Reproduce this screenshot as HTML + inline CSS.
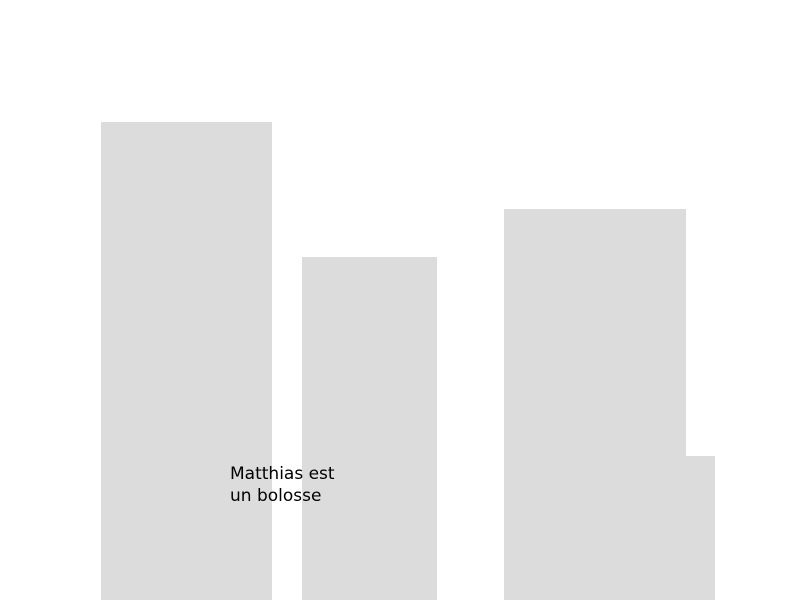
<!DOCTYPE html>
<html>
<head>
<meta charset="utf-8">
<style>
  html,body{margin:0;padding:0;background:#fff;}
  svg{display:block;}
</style>
</head>
<body>
<svg id="chart" width="800" height="600" viewBox="0 0 800 600">
  <g id="bars"></g>
  <text x="230" y="479" font-family="'DejaVu Sans','Liberation Sans',sans-serif" font-size="17" fill="#000">Matthias est</text>
  <text x="230" y="501" font-family="'DejaVu Sans','Liberation Sans',sans-serif" font-size="17" fill="#000">un bolosse</text>
</svg>
<script>
const categories = ["a", "b", "c", "d"];
const values = [478, 343, 391, 144];
// layout (not data)
const barLeft = [101, 302, 504, 686];
const barWidth = [171, 135, 182, 29];

const baseY = 600;
const yMaxPx = 600;
const yMax = 600;
function yScale(v){ return baseY - v * (yMaxPx / yMax); }

const g = document.getElementById('bars');
categories.forEach((c, i) => {
  const r = document.createElementNS('http://www.w3.org/2000/svg', 'rect');
  r.setAttribute('x', barLeft[i]);
  r.setAttribute('y', yScale(values[i]));
  r.setAttribute('width', barWidth[i]);
  r.setAttribute('height', baseY - yScale(values[i]));
  r.setAttribute('fill', '#dcdcdc');
  
  
  g.appendChild(r);
});
</script>
</body>
</html>
